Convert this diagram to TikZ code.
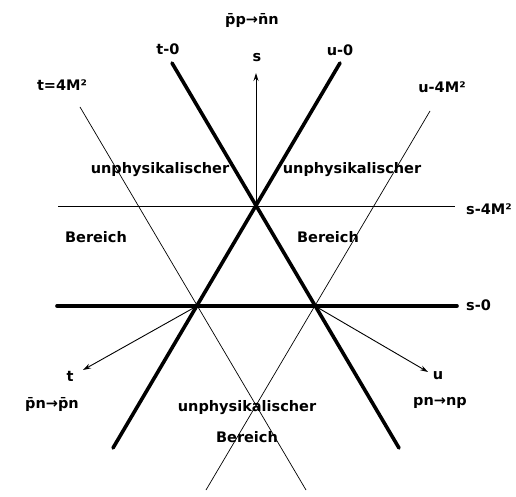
\documentclass[tikz,border=0pt]{standalone}
\usepackage{fontspec}
\setmainfont{DejaVu Sans}
\usetikzlibrary{arrows.meta}
\tikzset{
    % Physical boundaries t=0, u=0, s=0
    boundary/.style={line width=3.6pt, line cap=round},
    % Thresholds at 4M^2
    threshold/.style={line width=0.7pt},
    % Mandelstam axes
    axis arrow/.style={-{Stealth[length=8pt, width=5pt]}, line width=0.9pt},
    % Labels
    label text/.style={font=\fontsize{14.5}{17}\selectfont\bfseries, inner sep=1pt},
}

\begin{document}
\begin{tikzpicture}[x=1pt, y=-1pt]
    \useasboundingbox (0,0) rectangle (516,497);

    % corners of the physical triangle
    \coordinate (A) at (256,206);
    \coordinate (B) at (197,306);
    \coordinate (C) at (315,306);

    % end points of the lines
    \coordinate (t0top) at (172,63);
    \coordinate (t0bot) at (399,448);
    \coordinate (u0top) at (340,63);
    \coordinate (u0bot) at (113,448);
    \coordinate (s0left) at (57,306);
    \coordinate (s0right) at (457,306);
    \coordinate (t4top) at (80,107);
    \coordinate (t4bot) at (306,490);
    \coordinate (u4top) at (430,111);
    \coordinate (u4bot) at (206,490);
    \coordinate (s4left) at (58,206);
    \coordinate (s4right) at (455,206);

    % axis tips
    \coordinate (stip) at (256,73);
    \coordinate (ttip) at (83,370);
    \coordinate (utip) at (428,372);

    \draw [boundary] (t0top) -- (t0bot);
    \draw [boundary] (u0top) -- (u0bot);
    \draw [boundary] (s0left) -- (s0right);
    \draw [threshold] (t4top) -- (t4bot);
    \draw [threshold] (u4top) -- (u4bot);
    \draw [threshold] (s4left) -- (s4right);

    \draw [axis arrow] (A) -- (stip);
    \draw [axis arrow] (B) -- (ttip);
    \draw [axis arrow] (C) -- (utip);

    \node (pp) [label text] at (252,21) {p̄p→n̄n};
    \node (s) [label text] at (257,58) {s};
    \node (t0) [label text] at (168,49) {t-0};
    \node (u0) [label text] at (340,50) {u-0};
    \node (t4) [label text] at (62,85) {t=4M²};
    \node (u4) [label text] at (442,87) {u-4M²};
    \node (s4) [label text, anchor=west] at (465,209) {s-4M²};
    \node (s0) [label text, anchor=west] at (465,305) {s-0};
    \node (unphysL) [label text] at (160,170) {unphysikalischer};
    \node (unphysR) [label text] at (352,170) {unphysikalischer};
    \node (bereichL) [label text] at (96,237) {Bereich};
    \node (bereichR) [label text] at (328,237) {Bereich};
    \node (t) [label text] at (70,376) {t};
    \node (u) [label text] at (438,376) {u};
    \node (pnL) [label text] at (52,404) {p̄n→p̄n};
    \node (pnR) [label text] at (440,403) {pn→np};
    \node (unphysB) [label text] at (247,408) {unphysikalischer};
    \node (bereichB) [label text] at (247,437) {Bereich};
\end{tikzpicture}
\end{document}
